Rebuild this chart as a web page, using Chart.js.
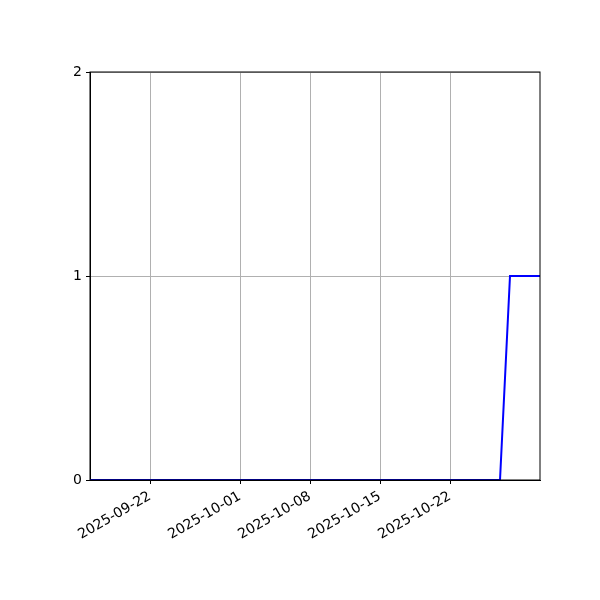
<!DOCTYPE html>
<html>
<head>
<meta charset="utf-8">
<script src="https://cdn.jsdelivr.net/npm/chart.js@4/dist/chart.umd.min.js"></script>
<style>
  html, body { margin: 0; padding: 0; background: #fff; }
  #wrap { width: 600px; height: 600px; }
</style>
</head>
<body>
<div id="wrap"><canvas id="chart-1" width="600" height="600"></canvas></div>
<script>
// ================= DADOS =================
const datas = [
  "2025-09-16", "2025-09-17", "2025-09-18", "2025-09-19", "2025-09-20",
  "2025-09-21", "2025-09-22", "2025-09-23", "2025-09-24", "2025-09-25",
  "2025-09-26", "2025-09-27", "2025-09-28", "2025-09-29", "2025-09-30",
  "2025-10-01", "2025-10-02", "2025-10-03", "2025-10-04", "2025-10-05",
  "2025-10-06", "2025-10-07", "2025-10-08", "2025-10-09", "2025-10-10",
  "2025-10-11", "2025-10-12", "2025-10-13", "2025-10-14", "2025-10-15",
  "2025-10-16", "2025-10-17", "2025-10-18", "2025-10-19", "2025-10-20",
  "2025-10-21", "2025-10-22", "2025-10-23", "2025-10-24", "2025-10-25",
  "2025-10-26", "2025-10-27", "2025-10-28", "2025-10-29", "2025-10-30",
  "2025-10-31"
];

const valores = [
  0, 0, 0, 0, 0, 0, 0, 0, 0, 0,
  0, 0, 0, 0, 0, 0, 0, 0, 0, 0,
  0, 0, 0, 0, 0, 0, 0, 0, 0, 0,
  0, 0, 0, 0, 0, 0, 0, 0, 0, 0,
  0, 0, 1, 1, 1, 1
];

const ticksX = ["2025-09-22", "2025-10-01", "2025-10-08", "2025-10-15", "2025-10-22"];
const ticksY = [0, 1, 2];

// ================= FORMATAR DATA =================
const DIA = 86400000;
const inicio = Date.parse(datas[0] + "T00:00:00Z");
const paraDia = (s) => (Date.parse(s + "T00:00:00Z") - inicio) / DIA;
const formatarData = (dia) => {
  const d = new Date(inicio + dia * DIA);
  const ano = d.getUTCFullYear();
  const mes = String(d.getUTCMonth() + 1).padStart(2, "0");
  const dd = String(d.getUTCDate()).padStart(2, "0");
  return `${ano}-${mes}-${dd}`;
};

const pontos = datas.map((d, i) => ({ x: paraDia(d), y: valores[i] }));

// moldura completa (estilo matplotlib)
const moldura = {
  id: "moldura",
  afterDatasetsDraw(chart) {
    const { ctx, chartArea: a } = chart;
    ctx.save();
    ctx.strokeStyle = "#000";
    ctx.lineWidth = 1;
    ctx.strokeRect(a.left, a.top, a.right - a.left, a.bottom - a.top);
    ctx.restore();
  }
};

Chart.defaults.font.family = "'DejaVu Sans', sans-serif";
Chart.defaults.font.size = 13;
Chart.defaults.color = "#000";

new Chart(document.getElementById("chart-1"), {
  type: "line",
  data: {
    datasets: [{
      data: pontos,
      borderColor: "#0000ff",
      borderWidth: 2,
      pointRadius: 0,
      tension: 0,
      fill: false
    }]
  },
  options: {
    responsive: false,
    animation: false,
    layout: { padding: { left: 0, right: 60, top: 72, bottom: 0 } },
    plugins: { legend: { display: false }, tooltip: { enabled: false } },
    scales: {
      x: {
        type: "linear",
        min: paraDia(datas[0]),
        max: paraDia(datas[datas.length - 1]),
        afterBuildTicks: (s) => { s.ticks = ticksX.map(t => ({ value: paraDia(t) })); },
        afterFit: (s) => { s.height = 120; },
        grid: { color: "#b0b0b0", lineWidth: 1, tickColor: "#000", tickLength: 4 },
        border: { color: "#000", width: 1 },
        ticks: {
          minRotation: 30,
          maxRotation: 30,
          padding: 4,
          font: { size: 14 },
          callback: (v) => formatarData(v)
        }
      },
      y: {
        min: 0,
        max: 2,
        afterBuildTicks: (s) => { s.ticks = ticksY.map(v => ({ value: v })); },
        afterFit: (s) => { s.width = 90; },
        grid: { color: "#b0b0b0", lineWidth: 1, tickColor: "#000", tickLength: 4 },
        border: { color: "#000", width: 1 },
        ticks: { padding: 4, font: { size: 14 } }
      }
    }
  },
  plugins: [moldura]
});
</script>
</body>
</html>
